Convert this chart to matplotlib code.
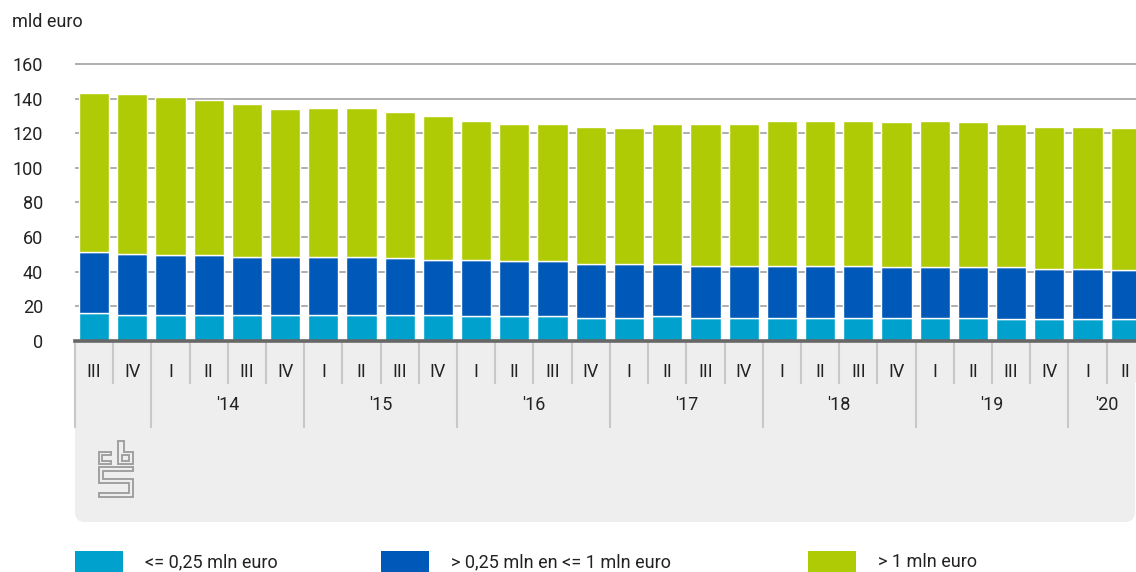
import numpy as np
import matplotlib
matplotlib.use('Agg')
import matplotlib.pyplot as plt
from matplotlib.patches import Rectangle, FancyBboxPatch
from matplotlib.transforms import blended_transform_factory

plt.rcParams['font.family'] = ['Roboto', 'DejaVu Sans']

# quarters from 2013 III to 2020 II
quarters = ['III', 'IV'] + ['I', 'II', 'III', 'IV'] * 6 + ['I', 'II']
years = ["'14", "'15", "'16", "'17", "'18", "'19", "'20"]

small = [15.9, 14.9, 14.9, 14.9, 14.9, 14.9, 14.9, 14.9, 14.9, 14.9, 14.1, 14.1, 14.1, 13.2,
         13.2, 14.1, 13.2, 13.2, 13.2, 13.2, 13.2, 13.2, 13.2, 13.2, 12.4, 12.4, 12.4, 12.4]
medium = [35.2, 35.5, 34.5, 34.5, 33.7, 33.7, 33.7, 33.7, 32.8, 32.0, 32.8, 32.0, 32.0, 31.2,
          31.2, 30.3, 30.2, 30.2, 30.2, 30.2, 30.2, 29.3, 29.3, 29.3, 30.1, 29.3, 29.3, 28.3]
large = [92.3, 92.3, 91.5, 89.8, 88.1, 85.4, 86.2, 86.2, 84.6, 82.9, 80.3, 79.4, 79.4, 79.4,
         78.4, 81.1, 82.1, 82.1, 83.8, 83.8, 83.8, 83.8, 84.7, 83.8, 83.0, 82.1, 82.1, 82.1]

series = ['<= 0,25 mln euro', '> 0,25 mln en <= 1 mln euro', '> 1 mln euro']
colors = ['#00a1cd', '#0058b8', '#afcb05']

W, H = 1136, 572
txt = '#222222'
fs = 13
fig = plt.figure(figsize=(W / 100, H / 100), dpi=100)

# background axes in pixel units for the panel, logo and legend
bg = fig.add_axes([0, 0, 1, 1])
bg.set_xlim(0, W)
bg.set_ylim(H, 0)
bg.axis('off')
bg.set_zorder(0)

ax = fig.add_axes([75 / W, 1 - 340.8 / H, (W - 75) / W, (340.8 - 60.5) / H])
ax.set_zorder(1)
ax.patch.set_alpha(0)

x = np.arange(len(quarters))
bottom = np.zeros(len(x))
for vals, col in zip([small, medium, large], colors):
    ax.bar(x, vals, 0.79, bottom=bottom, color=col, edgecolor='white', linewidth=1.0, zorder=2)
    bottom += np.array(vals)

ax.set_xlim(-0.5, 27.27)
ax.set_ylim(0, 162)
ax.set_yticks(range(0, 161, 20))
ax.yaxis.grid(True, color='#a8a8a8', linewidth=1.3)
ax.set_axisbelow(True)
ax.set_xticks([])
ax.tick_params(axis='y', length=0, pad=32 * 72 / 100, labelsize=fs, labelcolor=txt)
for s in ax.spines.values():
    s.set_visible(False)
ax.axhline(0, color='#676767', linewidth=2.6, zorder=5, clip_on=False)

fig.text(12 / W, 1 - 22 / H, 'mld euro', fontsize=fs, color=txt, va='center', ha='left')

# grey panel under the axis
panel = FancyBboxPatch((75, 342), W - 75 - 1, 180, boxstyle='round,pad=0,rounding_size=10',
                       facecolor='#eeeeee', edgecolor='none', zorder=0)
bg.add_patch(panel)
bg.add_patch(Rectangle((75, 342), W - 75, 40, facecolor='#eeeeee', edgecolor='none', zorder=0))

tr = blended_transform_factory(ax.transData, bg.transData)
sep_col = '#c8c8c8'
for i, q in enumerate(quarters):
    ax.text(i, 372, q, transform=tr, ha='center', va='center', fontsize=fs, color=txt)
    if i > 0:
        y_end = 427 if q == 'I' else 383
        bg.plot([i - 0.5, i - 0.5], [342, y_end], color=sep_col, lw=1.5, transform=tr, zorder=1)
bg.plot([-0.5, -0.5], [342, 427], color=sep_col, lw=1.5, transform=tr, zorder=1)

start = 2
for k, yr in enumerate(years):
    n = 4 if k < len(years) - 1 else 2
    xc = start + (n - 1) / 2
    ax.text(xc, 405, yr, transform=tr, ha='center', va='center', fontsize=fs, color=txt)
    start += n

# cbs logo
lc = '#a0a0a0'
logo = [
    [(111, 452), (99, 452), (99, 464), (111, 464), (111, 461), (102, 461), (102, 455), (111, 455), (111, 452)],
    [(118, 464), (118, 441), (124, 441), (124, 452), (133, 452), (133, 464), (118, 464)],
    [(122, 455), (129, 455), (129, 461), (122, 461), (122, 455)],
    [(133, 467), (99, 467), (99, 483), (129, 483), (129, 493), (99, 493), (99, 497), (133, 497),
     (133, 479), (103, 479), (103, 471), (133, 471), (133, 467)],
]
for seg in logo:
    xs, ys = zip(*seg)
    bg.plot(xs, ys, color=lc, lw=1.4, zorder=1, solid_joinstyle='miter')

# legend
leg_x = [75, 381, 808]
for lx, name, col in zip(leg_x, series, colors):
    bg.add_patch(Rectangle((lx, 551), 48, 22, facecolor=col, edgecolor='none'))
    bg.text(lx + 70, 562, name, fontsize=fs, color=txt, va='center', ha='left')

fig.savefig('out.png', dpi=100)
